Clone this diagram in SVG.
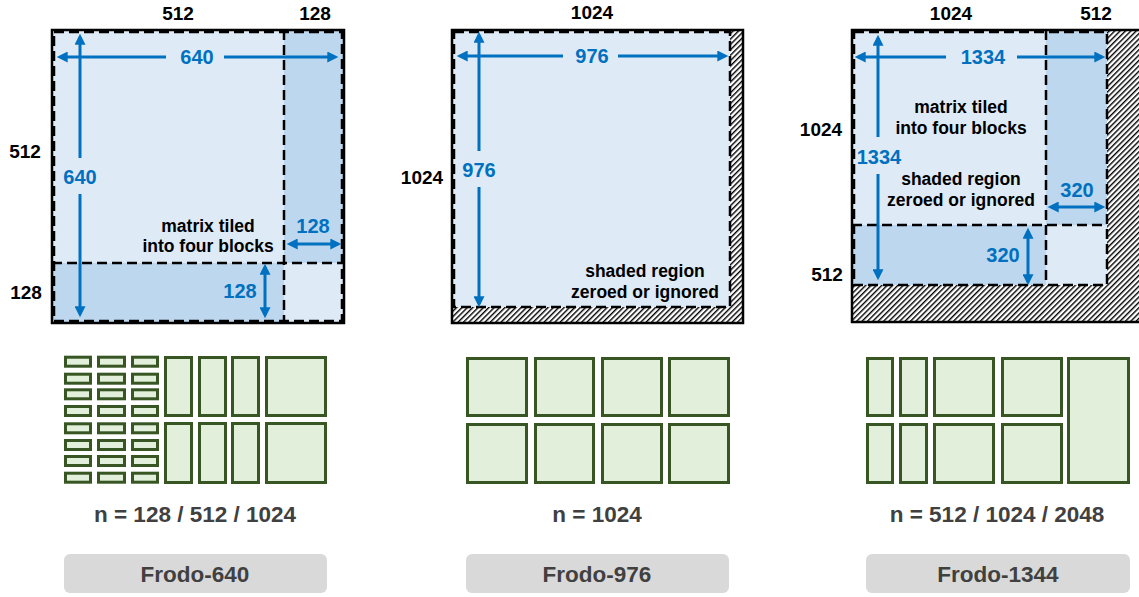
<svg xmlns="http://www.w3.org/2000/svg" width="1139" height="597" viewBox="0 0 1139 597">
<style>
text{font-family:"Liberation Sans",Arial,sans-serif;font-weight:bold;text-anchor:middle}
.dim{font-size:19px;fill:#000}
.blu{font-size:20px;fill:#0070c0}
.note{font-size:17.5px;fill:#000}
.cap{font-size:22.5px;fill:#404040}
.lt{fill:#deebf7}
.dk{fill:#bdd7ee}
.dash{fill:none;stroke:#000;stroke-width:2.5;stroke-dasharray:10 5}
.outer{fill:none;stroke:#000;stroke-width:2.5}
.arr{stroke:#0070c0;stroke-width:3;fill:none;marker-end:url(#ah)}
.blk rect{fill:#e2efda;stroke:#375623;stroke-width:3}
.btn{fill:#d9d9d9}
</style>
<defs>
<marker id="ah" viewBox="0 0 10 10" refX="7" refY="5" markerWidth="12" markerHeight="11" markerUnits="userSpaceOnUse" orient="auto">
<path d="M0,0 L10,5 L0,10 z" fill="#0070c0"/>
</marker>
<pattern id="hatch" patternUnits="userSpaceOnUse" width="3.8" height="3.8" patternTransform="rotate(45)">
<rect width="3.8" height="3.8" fill="#fff"/>
<rect width="1.4" height="3.8" fill="#000"/>
</pattern>
</defs>

<g id="panel-frodo-640">
<rect x="52" y="30" width="292" height="293" class="lt"/>
<rect x="284" y="30" width="60" height="233" class="dk"/>
<rect x="52" y="263" width="232" height="60" class="dk"/>
<rect x="54" y="32" width="288" height="289" class="dash"/>
<line x1="284" y1="30" x2="284" y2="323" class="dash"/>
<line x1="52" y1="263" x2="344" y2="263" class="dash"/>
<rect x="52" y="30" width="292" height="293" class="outer"/>
<text x="178" y="20" class="dim">512</text>
<text x="315" y="20" class="dim">128</text>
<text x="25" y="158" class="dim">512</text>
<text x="26" y="299" class="dim">128</text>
<text x="197" y="64" class="blu">640</text>
<text x="80" y="184" class="blu">640</text>
<text x="313" y="233" class="blu">128</text>
<text x="240" y="298" class="blu">128</text>
<text x="208" y="232" class="note">matrix tiled</text>
<text x="208" y="252" class="note">into four blocks</text>
</g>

<g id="panel-frodo-976">
<rect x="452" y="30" width="291" height="293" fill="url(#hatch)"/>
<rect x="452" y="30" width="278" height="277" class="lt"/>
<rect x="454" y="32" width="276" height="275" class="dash"/>
<rect x="452" y="30" width="291" height="293" class="outer"/>
<text x="592" y="19" class="dim">1024</text>
<text x="422" y="184" class="dim">1024</text>
<text x="592" y="63" class="blu">976</text>
<text x="479" y="177" class="blu">976</text>
<text x="645" y="277" class="note">shaded region</text>
<text x="645" y="298" class="note">zeroed or ignored</text>
</g>

<g id="panel-frodo-1344">
<rect x="852" y="30" width="300" height="292" fill="url(#hatch)"/>
<rect x="852" y="30" width="255" height="255" class="lt"/>
<rect x="1046" y="30" width="61" height="195" class="dk"/>
<rect x="852" y="225" width="194" height="60" class="dk"/>
<rect x="854" y="32" width="253" height="253" class="dash"/>
<line x1="1046" y1="30" x2="1046" y2="285" class="dash"/>
<line x1="852" y1="225" x2="1107" y2="225" class="dash"/>
<rect x="852" y="30" width="300" height="292" class="outer" stroke-width="3"/>
<text x="951" y="20" class="dim">1024</text>
<text x="1096" y="20" class="dim">512</text>
<text x="821" y="136" class="dim">1024</text>
<text x="827" y="281" class="dim">512</text>
<text x="983" y="64" class="blu">1334</text>
<text x="879" y="164" class="blu">1334</text>
<text x="1077" y="197" class="blu">320</text>
<text x="1003" y="262" class="blu">320</text>
<text x="961" y="113" class="note">matrix tiled</text>
<text x="961" y="134" class="note">into four blocks</text>
<text x="961" y="185" class="note">shaded region</text>
<text x="961" y="206" class="note">zeroed or ignored</text>
</g>

<g id="connectors">
<line x1="166" y1="57" x2="60" y2="57" class="arr"/>
<line x1="224" y1="57" x2="335" y2="57" class="arr"/>
<line x1="80" y1="158" x2="80" y2="37" class="arr"/>
<line x1="80" y1="194" x2="80" y2="314" class="arr"/>
<line x1="314" y1="244" x2="290" y2="244" class="arr"/>
<line x1="314" y1="244" x2="338" y2="244" class="arr"/>
<line x1="265" y1="291" x2="265" y2="267" class="arr"/>
<line x1="265" y1="291" x2="265" y2="315" class="arr"/>

<line x1="563" y1="56" x2="460" y2="56" class="arr"/>
<line x1="618" y1="56" x2="725" y2="56" class="arr"/>
<line x1="479" y1="151" x2="479" y2="35" class="arr"/>
<line x1="479" y1="187" x2="479" y2="304" class="arr"/>

<line x1="946" y1="57" x2="858" y2="57" class="arr"/>
<line x1="1017" y1="57" x2="1102" y2="57" class="arr"/>
<line x1="878" y1="137" x2="878" y2="38" class="arr"/>
<line x1="878" y1="174" x2="878" y2="277" class="arr"/>
<line x1="1076" y1="207" x2="1051" y2="207" class="arr"/>
<line x1="1076" y1="207" x2="1102" y2="207" class="arr"/>
<line x1="1028" y1="256" x2="1028" y2="231" class="arr"/>
<line x1="1028" y1="256" x2="1028" y2="282" class="arr"/>
</g>

<g id="blocks-640" class="blk">
<rect x="65.5" y="357.2" width="25" height="9"/><rect x="98.5" y="357.2" width="26" height="9"/><rect x="132.5" y="357.2" width="25" height="9"/>
<rect x="65.5" y="374.2" width="25" height="9"/><rect x="98.5" y="374.2" width="26" height="9"/><rect x="132.5" y="374.2" width="25" height="9"/>
<rect x="65.5" y="389.8" width="25" height="9"/><rect x="98.5" y="389.8" width="26" height="9"/><rect x="132.5" y="389.8" width="25" height="9"/>
<rect x="65.5" y="406.5" width="25" height="9"/><rect x="98.5" y="406.5" width="26" height="9"/><rect x="132.5" y="406.5" width="25" height="9"/>
<rect x="65.5" y="423.8" width="25" height="9"/><rect x="98.5" y="423.8" width="26" height="9"/><rect x="132.5" y="423.8" width="25" height="9"/>
<rect x="65.5" y="440.5" width="25" height="9"/><rect x="98.5" y="440.5" width="26" height="9"/><rect x="132.5" y="440.5" width="25" height="9"/>
<rect x="65.5" y="456.5" width="25" height="9"/><rect x="98.5" y="456.5" width="26" height="9"/><rect x="132.5" y="456.5" width="25" height="9"/>
<rect x="65.5" y="473.2" width="25" height="9"/><rect x="98.5" y="473.2" width="26" height="9"/><rect x="132.5" y="473.2" width="25" height="9"/>
<rect x="165.5" y="357.5" width="26" height="58"/><rect x="199.5" y="357.5" width="26" height="58"/><rect x="232.5" y="357.5" width="26" height="58"/>
<rect x="266.5" y="357.5" width="59" height="58"/>
<rect x="165.5" y="423.5" width="26" height="59"/><rect x="199.5" y="423.5" width="26" height="59"/><rect x="232.5" y="423.5" width="26" height="59"/>
<rect x="266.5" y="423.5" width="59" height="59"/>
</g>

<g id="blocks-976" class="blk">
<rect x="467.5" y="358.5" width="59" height="57"/><rect x="535.5" y="358.5" width="58" height="57"/><rect x="602.5" y="358.5" width="59" height="57"/><rect x="669.5" y="358.5" width="59" height="57"/>
<rect x="467.5" y="424.5" width="59" height="58"/><rect x="535.5" y="424.5" width="58" height="58"/><rect x="602.5" y="424.5" width="59" height="58"/><rect x="669.5" y="424.5" width="59" height="58"/>
</g>

<g id="blocks-1344" class="blk">
<rect x="867.5" y="358.5" width="25" height="57"/><rect x="900.5" y="358.5" width="26" height="57"/><rect x="934.5" y="358.5" width="59" height="57"/><rect x="1002.5" y="358.5" width="59" height="57"/>
<rect x="867.5" y="424.5" width="25" height="58"/><rect x="900.5" y="424.5" width="26" height="58"/><rect x="934.5" y="424.5" width="59" height="58"/><rect x="1002.5" y="424.5" width="59" height="58"/>
<rect x="1068.5" y="358.5" width="60" height="124"/>
</g>

<g id="caption-640">
<text x="195" y="522" class="cap">n = 128 / 512 / 1024</text>
<rect x="64" y="554" width="263" height="39" rx="6" class="btn"/>
<text x="195" y="582" class="cap">Frodo-640</text>
</g>
<g id="caption-976">
<text x="597" y="522" class="cap">n = 1024</text>
<rect x="466" y="554" width="263" height="39" rx="6" class="btn"/>
<text x="597" y="582" class="cap">Frodo-976</text>
</g>
<g id="caption-1344">
<text x="997" y="522" class="cap">n = 512 / 1024 / 2048</text>
<rect x="866" y="554" width="264" height="39" rx="6" class="btn"/>
<text x="998" y="582" class="cap">Frodo-1344</text>
</g>
</svg>
